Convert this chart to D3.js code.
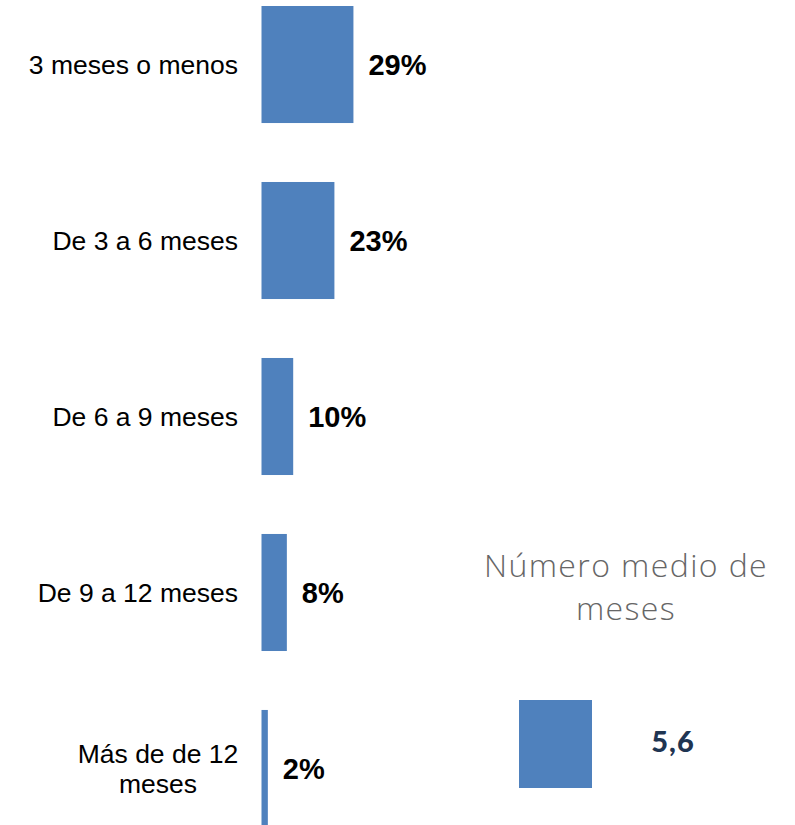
<!DOCTYPE html>
<html>
<head>
<meta charset="utf-8">
<script src="https://cdn.jsdelivr.net/npm/d3@7"></script>
<style>
  html, body { margin: 0; padding: 0; background: #ffffff; }
  svg { display: block; }
</style>
</head>
<body>
<div id="chart"></div>
<script>
const categories = [
  ["3 meses o menos"],
  ["De 3 a 6 meses"],
  ["De 6 a 9 meses"],
  ["De 9 a 12 meses"],
  ["Más de de 12", "meses"]
];
const values = [29, 23, 10, 8, 2];
const meanTitle = ["Número medio de", "meses"];
const meanValues = [5.6];
const meanLabels = ["5,6"];

const W = 795, H = 825;
const svg = d3.select("#chart").append("svg").attr("width", W).attr("height", H);

const barColor = "#4f81bd";
const x0 = 261.5;
const x = d3.scaleLinear().domain([0, 100]).range([x0, x0 + 317]);
const keys = categories.map((c, i) => i);
const y = d3.scaleBand().domain(keys).range([6, 827]).paddingInner(0.335).paddingOuter(0);

const g = svg.append("g");
g.selectAll("rect.bar").data(values).enter().append("rect")
  .attr("class", "bar")
  .attr("x", x(0))
  .attr("y", (d, i) => y(i))
  .attr("width", d => x(d) - x(0))
  .attr("height", y.bandwidth())
  .attr("fill", barColor);

// category labels
const lab = g.selectAll("text.cat").data(categories).enter().append("text")
  .attr("class", "cat")
  .attr("font-family", "'Liberation Sans', Arial, sans-serif")
  .attr("font-size", 26.5)
  .attr("fill", "#000");
lab.each(function(lines, i) {
  const t = d3.select(this);
  const cy = y(i) + y.bandwidth() / 2;
  const lh = 30;
  const n = lines.length;
  if (n === 1) {
    t.attr("text-anchor", "end");
    t.append("tspan").attr("x", 238).attr("y", cy + 9.5).text(lines[0]);
  } else {
    t.attr("text-anchor", "middle");
    lines.forEach((ln, k) => {
      t.append("tspan").attr("x", 158).attr("y", cy + 9.5 + (k - (n - 1) / 2) * lh).text(ln);
    });
  }
});

// value labels
g.selectAll("text.val").data(values).enter().append("text")
  .attr("class", "val")
  .attr("x", d => x(d) + 15)
  .attr("y", (d, i) => y(i) + y.bandwidth() / 2 + 10.5)
  .attr("font-family", "'Liberation Sans', Arial, sans-serif")
  .attr("font-weight", "bold")
  .attr("font-size", 29)
  .attr("fill", "#000")
  .text(d => d + "%");

// mean panel
const mx = d3.scaleLinear().domain([0, 5.6]).range([519, 592]);
const mt = svg.append("text")
  .attr("text-anchor", "middle")
  .attr("font-family", "'Open Sans', sans-serif")
  .attr("font-weight", 300)
  .attr("font-size", 32)
  .attr("letter-spacing", 1.4)
  .attr("fill", "#666666");
meanTitle.forEach((ln, k) => {
  mt.append("tspan").attr("x", 626).attr("y", 577 + k * 43).text(ln);
});
svg.selectAll("rect.mean").data(meanValues).enter().append("rect")
  .attr("class", "mean")
  .attr("x", mx(0))
  .attr("y", 700)
  .attr("width", d => mx(d) - mx(0))
  .attr("height", 88)
  .attr("fill", barColor);
svg.selectAll("text.meanv").data(meanLabels).enter().append("text")
  .attr("class", "meanv")
  .attr("x", 673)
  .attr("y", 752)
  .attr("text-anchor", "middle")
  .attr("font-family", "'Lato', sans-serif")
  .attr("font-weight", 900)
  .attr("font-size", 29)
  .attr("letter-spacing", 1)
  .attr("fill", "#1f3552")
  .text(d => d);
</script>
</body>
</html>
